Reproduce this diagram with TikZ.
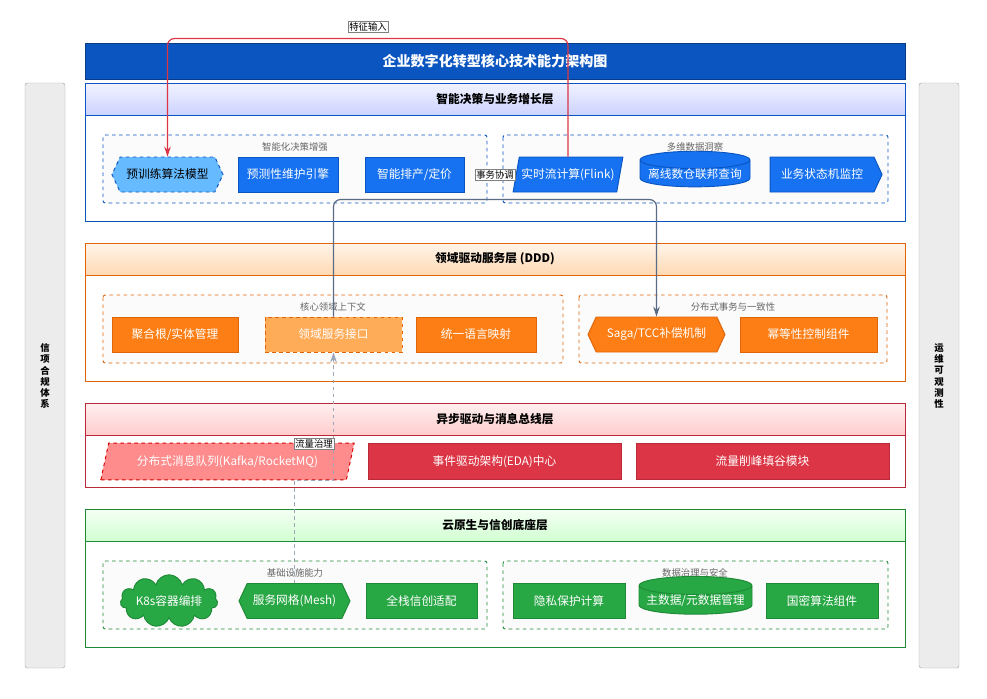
\documentclass[tikz,border=0pt]{standalone}
\usepackage{fontspec}
\setmainfont{Noto Sans CJK SC}
\usetikzlibrary{positioning}
\usetikzlibrary{arrows.meta}
\usetikzlibrary{shapes.geometric,shapes.symbols}
\definecolor{blueA}{HTML}{1672F0}
\definecolor{blueB}{HTML}{0B55C0}
\definecolor{orgA}{HTML}{FD7E14}
\definecolor{orgB}{HTML}{E0650A}
\definecolor{redA}{HTML}{DC3545}
\definecolor{redB}{HTML}{B92A38}
\definecolor{grnA}{HTML}{28A745}
\definecolor{grnB}{HTML}{1E8A36}
\definecolor{slate}{HTML}{5A6B85}
\tikzset{
  blk/.style={draw, line width=0.8pt, text=white, minimum height=1.05cm, inner sep=1pt, font=\normalsize},
  bl/.style={blk, fill=blueA, draw=blueB},
  og/.style={blk, fill=orgA, draw=orgB},
  rd/.style={blk, fill=redA, draw=redB},
  gn/.style={blk, fill=grnA, draw=grnB},
  hexa/.style={signal, signal to=west and east, signal pointer angle=130},
  chev/.style={signal, signal to=east, signal pointer angle=130},
  para/.style={trapezium, trapezium left angle=70, trapezium right angle=110, trapezium stretches=true},
  cyl/.style={cylinder, shape border rotate=90, aspect=0.18, inner ysep=0pt},
  grp/.style={dashed, line width=0.8pt, rounded corners=2pt, fill=gray!3},
  glab/.style={font=\footnotesize\itshape, text=gray!80!black},
  head/.style={draw, line width=0.7pt},
  htxt/.style={font=\normalsize\bfseries},
  tag/.style={draw=gray, fill=white, font=\footnotesize, inner sep=1pt},
  side/.style={draw=gray!70, fill=gray!15, rounded corners=2pt}
}
\begin{document}
\begin{tikzpicture}[x=0.03cm, y=-0.03cm]
\useasboundingbox (0,0) rectangle (987,698);
% side bars and title
\draw[side] (25,83) rectangle (65,668);
\node[font=\footnotesize\bfseries, align=center, inner sep=0pt] (lside) at (45,376) {信\\项\\合\\规\\体\\系};
\draw[side] (919,83) rectangle (959,668);
\node[font=\footnotesize\bfseries, align=center, inner sep=0pt] (rside) at (939,376) {运\\维\\可\\观\\测\\性};
\node[fill=blueB, draw=blueB!70!black, text=white, font=\large\bfseries, minimum width=24.6cm, minimum height=1.08cm] (title) at (495,61) {企业数字化转型核心技术能力架构图};

% layer 1
\draw[blueB, line width=0.7pt, fill=white] (85,83) rectangle (905,221);
\draw[head, draw=blueB, top color=blue!5, bottom color=cyan!15!blue!20] (85,83) rectangle (905,115);
\node[htxt] (h1) at (495,99) {智能决策与业务增长层};
\draw[grp, draw=blueB] (103,135) rectangle (487,203);
\draw[grp, draw=blueB] (503,135) rectangle (888,203);
\node[glab] (g1) at (295,147) {智能化决策增强};
\node[glab] (g2) at (695,147) {多维数据洞察};
\node[bl, hexa, dashed, fill=blue!45!cyan!60, text=black, minimum width=3.33cm] (p1) at (167.5,174.5) {预训练算法模型};
\node[bl, minimum width=3cm] (p2) at (288,174.5) {预测性维护引擎};
\node[bl, minimum width=2.97cm] (p3) at (414.5,174.5) {智能排产/定价};
\node[bl, para, minimum width=3.3cm, inner xsep=-4pt] (p4) at (568,174.5) {实时流计算(Flink)};
\node[bl, cyl, minimum width=3.3cm, minimum height=0.95cm] (p5) at (695,174.5) {离线数仓联邦查询};
\node[bl, chev, minimum width=3.36cm] (p6) at (822,174.5) {业务状态机监控};

% layer 2
\draw[orgB, line width=0.7pt, fill=white] (85,243) rectangle (905,381);
\draw[head, draw=orgB, top color=orange!8, bottom color=orange!30] (85,243) rectangle (905,275);
\node[htxt] (h2) at (495,259) {领域驱动服务层 (DDD)};
\draw[grp, draw=orgB] (103,295) rectangle (563,363);
\draw[grp, draw=orgB] (579,295) rectangle (887,363);
\node[glab] (g3) at (333,307) {核心领域上下文};
\node[glab] (g4) at (733,307) {分布式事务与一致性};
\node[og, minimum width=3.78cm] (d1) at (175,334.5) {聚合根/实体管理};
\node[og, dashed, fill=orange!65, minimum width=4.11cm] (d2) at (333.5,334.5) {领域服务接口};
\node[og, minimum width=3.6cm] (d3) at (476,334.5) {统一语言映射};
\node[og, hexa, minimum width=4.11cm] (d4) at (656.5,334.5) {Saga/TCC补偿机制};
\node[og, minimum width=4.11cm] (d5) at (808.5,334.5) {幂等性控制组件};

% layer 3
\draw[redB, line width=0.7pt, fill=white] (85,403) rectangle (905,487);
\draw[head, draw=redB, top color=red!6, bottom color=red!20] (85,403) rectangle (905,435);
\node[htxt] (h3) at (495,419) {异步驱动与消息总线层};
\node[rd, para, dashed, fill=red!45, draw=red!85!black, minimum width=7.6cm, minimum height=1.1cm, inner xsep=-8pt] (m1) at (227.5,461.5) {分布式消息队列(Kafka/RocketMQ)};
\node[rd, minimum width=7.59cm, minimum height=1.1cm] (m2) at (494.5,461.5) {事件驱动架构(EDA)中心};
\node[rd, minimum width=7.59cm, minimum height=1.1cm] (m3) at (762.5,461.5) {流量削峰填谷模块};

% layer 4
\draw[grnB, line width=0.7pt, fill=white] (85,509) rectangle (905,647);
\draw[head, draw=grnB, top color=green!4, bottom color=green!18] (85,509) rectangle (905,541);
\node[htxt] (h4) at (495,525) {云原生与信创底座层};
\draw[grp, draw=grnB] (103,561) rectangle (487,629);
\draw[grp, draw=grnB] (503,561) rectangle (888,629);
\node[glab] (g5) at (295,573) {基础设施能力};
\node[glab] (g6) at (695,573) {数据治理与安全};
\node[gn, cloud, cloud puffs=11, aspect=2.8, minimum width=2.7cm, minimum height=0.85cm, inner sep=0pt] (c1) at (169,601) {K8s容器编排};
\node[gn, hexa, minimum width=3.33cm] (c2) at (294.5,601) {服务网格(Mesh)};
\node[gn, minimum width=3.33cm] (c3) at (421.5,601) {全栈信创适配};
\node[gn, minimum width=3.36cm] (c4) at (569,601) {隐私保护计算};
\node[gn, cyl, minimum width=3.39cm, minimum height=0.95cm] (c5) at (695.5,601) {主数据/元数据管理};
\node[gn, minimum width=3.36cm] (c6) at (822,601) {国密算法组件};

% connectors
\draw[redA, line width=1pt, rounded corners=6pt, -{Stealth[length=3mm, width=2mm]}] (p4.north) -- ++(0,-118) -| (p1.north);
\node[tag] (t1) at (368,27) {特征输入};
\draw[slate, line width=1pt, rounded corners=6pt, -{Stealth[length=3mm, width=2mm]}] (d2.north) -- ++(0,-117) -| (d4.north);
\node[tag] (t2) at (495,175) {事务协调};
\draw[slate!60, line width=0.8pt, dashed, -{Stealth[length=3mm, width=2mm]}] (c2.north) -- ++(0,-103) -| (d2.south);
\node[tag] (t3) at (314,444) {流量治理};
\end{tikzpicture}
\end{document}
